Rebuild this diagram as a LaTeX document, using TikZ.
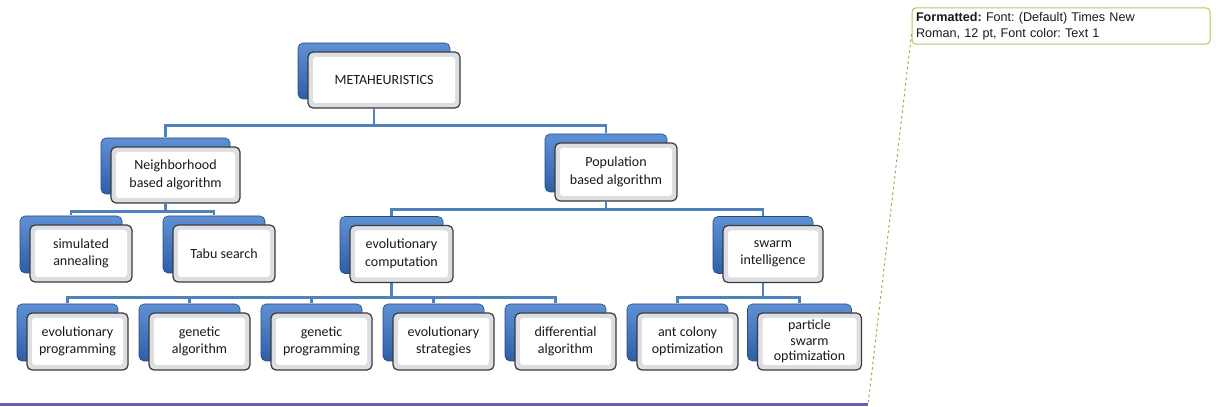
\documentclass[tikz,border=0pt]{standalone}
\usepackage{fontspec}
\setmainfont{Carlito}
\newfontfamily\notefont{Liberation Sans}
\usepackage{tikz}
\usetikzlibrary{positioning,shadows,backgrounds,calc}
\definecolor{linkblue}{RGB}{79,129,189}
\definecolor{backblue}{RGB}{46,94,166}
\definecolor{backlight}{RGB}{96,144,212}
\definecolor{frontgray}{RGB}{58,58,58}
\definecolor{bevelgray}{RGB}{220,222,226}
\definecolor{noteborder}{RGB}{196,192,92}
\definecolor{rulepurple}{RGB}{104,96,180}
\frenchspacing

\begin{document}
\begin{tikzpicture}[x=1pt, y=1pt, node distance=122pt]
\tikzstyle{box} = [rectangle, rounded corners=5pt, minimum width=101pt, minimum height=57pt, align=center, draw=frontgray, line width=1.2pt, fill=bevelgray, text=black!90, font=\fontsize{14}{17.5}\selectfont,
  path picture={\fill[white, rounded corners=3pt] ([shift={(5pt,5pt)}]path picture bounding box.south west) rectangle ([shift={(-5pt,-5pt)}]path picture bounding box.north east);},
  general shadow={shadow xshift=-10pt, shadow yshift=9pt, top color=backlight, bottom color=backblue, draw=backblue!80!black, line width=0.6pt}]
\tikzstyle{link} = [linkblue, line width=2.2pt]
\tikzstyle{note} = [rectangle, rounded corners=4pt, draw=noteborder, line width=1pt, fill=white, minimum width=298pt, minimum height=36pt, text width=290pt, align=left, inner sep=4pt, text=black!90, font=\notefont\fontsize{12.6}{16.5}\selectfont]
\tikzstyle{noteline} = [noteborder!85!black, line width=1pt, dash pattern=on 2.5pt off 3pt]
\tikzstyle{rule} = [rulepurple, line width=2.5pt]

\useasboundingbox (0,0) rectangle (1216,407);

\node (Meta) [box, minimum width=152pt, minimum height=56pt] at (384,327) {METAHEURISTICS};
\node (Neighborhood) [box, minimum width=129pt, minimum height=56pt] at (175.5,232) {Neighborhood\\based algorithm};
\node (Population) [box, minimum width=122pt, minimum height=58pt] at (616,235) {Population\\based algorithm};

\node (Simulated) [box, minimum width=102pt] at (81,153.5) {simulated\\annealing};
\node (Tabu) [box, minimum width=102pt] at (224,153.5) {Tabu search};
\node (EvoComp) [box, minimum width=103pt] at (401.5,153) {evolutionary\\computation};
\node (Swarm) [box, minimum width=100pt] at (773,153) {swarm\\intelligence};

\node (EvoProg) [box] at (77.5,65.5) {evolutionary\\programming};
\node (GenAlg) [box, right of=EvoProg] {genetic\\algorithm};
\node (GenProg) [box, right of=GenAlg] {genetic\\programming};
\node (EvoStrat) [box, right of=GenProg] {evolutionary\\strategies};
\node (DiffAlg) [box, right of=EvoStrat] {differential\\algorithm};
\node (AntColony) [box, right of=DiffAlg] {ant colony\\optimization};
\node (Particle) [box, minimum width=104pt, font=\fontsize{14}{15.5}\selectfont, right of=AntColony] {particle\\swarm\\optimization};

\begin{scope}[on background layer]
\draw [link] ([xshift=-10pt]Meta.south) -- ++(0,-17) -| ([shift={(-10pt,9pt)}]Neighborhood.north);
\draw [link] ([xshift=-10pt]Meta.south) -- ++(0,-17) -| ([shift={(-10pt,9pt)}]Population.north);
\draw [link] ([xshift=-10pt]Neighborhood.south) -- ++(0,-8) -| ([shift={(-10pt,9pt)}]Simulated.north);
\draw [link] ([xshift=-10pt]Neighborhood.south) -- ++(0,-8) -| ([shift={(-10pt,9pt)}]Tabu.north);
\draw [link] ([xshift=-10pt]Population.south) -- ++(0,-8) -| ([shift={(-10pt,9pt)}]EvoComp.north);
\draw [link] ([xshift=-10pt]Population.south) -- ++(0,-8) -| ([shift={(-10pt,9pt)}]Swarm.north);
\foreach \child in {EvoProg,GenAlg,GenProg,EvoStrat,DiffAlg}
  \draw [link] ([xshift=-10pt]EvoComp.south) -- ++(0,-14.5) -| ([shift={(-10pt,9pt)}]\child.north);
\foreach \child in {AntColony,Particle}
  \draw [link] ([xshift=-10pt]Swarm.south) -- ++(0,-14.5) -| ([shift={(-10pt,9pt)}]\child.north);
\end{scope}

% comment balloon
\node (Note) [note] at (1061,381) {\textbf{Formatted:} Font: (Default) Times New\\Roman, 12 pt, Font color: Text 1};
\coordinate (NoteEnd) at (868,2);
\draw [noteline] ([yshift=-8pt]Note.west) -- (NoteEnd);
\draw [rule] (0,2.5) -- (NoteEnd |- 0,2.5);
\end{tikzpicture}
\end{document}
